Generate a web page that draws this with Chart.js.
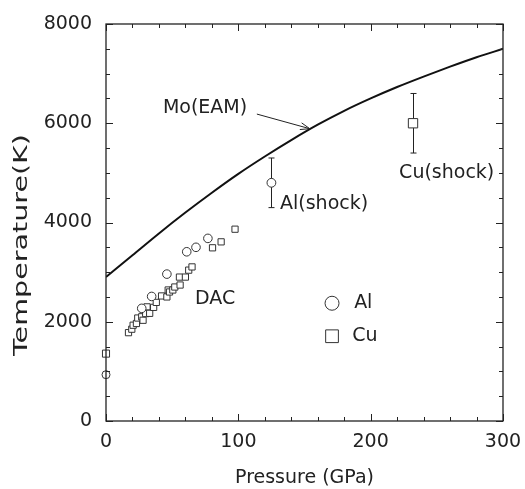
<!DOCTYPE html>
<html><head><meta charset="utf-8">
<script src="https://cdn.jsdelivr.net/npm/chart.js@4"></script>
<style>html,body{margin:0;padding:0;background:#fff}#wrap{width:525px;height:489px}</style>
</head><body><div id="wrap"><canvas id="c" width="525" height="489"></canvas></div>
<script>
// ---- data ----
const curveP = [0,20,40,60,80,100,120,140,160,180,200,220,240,260,280,300];
const curveT = [2900,3340,3780,4200,4600,4980,5330,5660,5970,6250,6500,6730,6940,7140,7330,7500];

const alDacP = [27,34.5,46,61,68,77];
const alDacT = [2270,2510,2960,3410,3500,3680];

const cuDacP = [17,19.5,20.5,23,24,27,28,30,31,33,36,38,42,46,47,48,50.5,52,56,55.5,60,62.5,65,80.5,87,97.5];
const cuDacT = [1780,1850,1930,1965,2075,2100,2030,2165,2300,2170,2290,2390,2520,2500,2640,2600,2640,2700,2740,2900,2900,3040,3105,3490,3610,3865];

const alAmbP = [0], alAmbT = [933];
const cuAmbP = [0], cuAmbT = [1358];

const alShockP = [125], alShockT = [4800], alShockErr = [500];
const cuShockP = [232], cuShockT = [6000], cuShockErr = [600];

const xTicks = [0,100,200,300];
const yTicks = [0,2000,4000,6000,8000];
const xMinorStep = 20, yMinorStep = 500;

const pts = (P,T) => P.map((p,i)=>({x:p,y:T[i]}));
const FONT = '"DejaVu Sans", sans-serif';
const INK = '#222';

const frameTicks = {
  id:'frameTicks',
  beforeDatasetsDraw(chart){
    const {ctx, scales:{x,y}} = chart;
    ctx.save();
    ctx.strokeStyle = INK; ctx.lineWidth = 1;
    const bars = [[alShockP,alShockT,alShockErr],[cuShockP,cuShockT,cuShockErr]];
    bars.forEach(([P,T,E])=>{
      P.forEach((p,i)=>{
        const px = Math.round(x.getPixelForValue(p))+0.5;
        const y1 = y.getPixelForValue(T[i]+E[i]), y2 = y.getPixelForValue(T[i]-E[i]);
        ctx.beginPath();
        ctx.moveTo(px,y1); ctx.lineTo(px,y2);
        ctx.moveTo(px-3,y1); ctx.lineTo(px+3,y1);
        ctx.moveTo(px-3,y2); ctx.lineTo(px+3,y2);
        ctx.stroke();
      });
    });
    ctx.restore();
  },
  afterDatasetsDraw(chart){
    const {ctx, chartArea:a, scales:{x,y}} = chart;
    ctx.save();
    ctx.strokeStyle = INK;
    ctx.lineWidth = 1.3;
    ctx.strokeRect(a.left, a.top, a.right-a.left, a.bottom-a.top);
    ctx.lineWidth = 1;
    ctx.beginPath();
    for (let v = x.min; v <= x.max + 1e-9; v += xMinorStep) {
      const major = xTicks.includes(v);
      const L = major ? 7 : 4;
      const px = Math.round(x.getPixelForValue(v)) + 0.5;
      ctx.moveTo(px, a.bottom); ctx.lineTo(px, a.bottom - L);
      ctx.moveTo(px, a.top); ctx.lineTo(px, a.top + L);
    }
    for (let v = y.min; v <= y.max + 1e-9; v += yMinorStep) {
      const major = yTicks.includes(v);
      const L = major ? 7 : 4;
      const py = Math.round(y.getPixelForValue(v)) + 0.5;
      ctx.moveTo(a.left, py); ctx.lineTo(a.left + L, py);
      ctx.moveTo(a.right, py); ctx.lineTo(a.right - L, py);
    }
    ctx.stroke();

    // annotations
    ctx.fillStyle = INK;
    ctx.font = '19px ' + FONT;
    ctx.textBaseline = 'middle';
    ctx.textAlign = 'left';
    const txt = (s,p,t)=>ctx.fillText(s, x.getPixelForValue(p), y.getPixelForValue(t));
    txt('Mo(EAM)', 43, 6306);
    txt('Al(shock)', 131.5, 4370);
    txt('Cu(shock)', 221.5, 4995);
    txt('DAC', 67.3, 2455);
    txt('Al', 187.5, 2373);
    txt('Cu', 186, 1708);

    // y-axis title (wide lettering, as in the reference)
    const title = 'Temperature(K)';
    const targetLen = 222;
    ctx.font = '20px ' + FONT;
    const natural = ctx.measureText(title).width;
    ctx.save();
    ctx.translate(22, 245);
    ctx.rotate(-Math.PI/2);
    ctx.scale(targetLen / natural, 1);
    ctx.textAlign = 'center';
    ctx.fillText(title, 0, 0);
    ctx.restore();

    // arrow
    const x0 = x.getPixelForValue(114), y0 = y.getPixelForValue(6185);
    const x1 = x.getPixelForValue(154), y1 = y.getPixelForValue(5890);
    ctx.lineWidth = 1;
    ctx.beginPath(); ctx.moveTo(x0,y0); ctx.lineTo(x1,y1); ctx.stroke();
    const ang = Math.atan2(y1-y0, x1-x0), h = 10;
    ctx.beginPath();
    ctx.moveTo(x1 - h*Math.cos(ang-0.35), y1 - h*Math.sin(ang-0.35));
    ctx.lineTo(x1,y1);
    ctx.lineTo(x1 - h*Math.cos(ang+0.35), y1 - h*Math.sin(ang+0.35));
    ctx.stroke();

    // legend markers
    ctx.strokeStyle = '#333'; ctx.fillStyle = '#fff'; ctx.lineWidth = 1;
    Chart.helpers.drawPoint(ctx, {pointStyle:'circle', radius:7, borderWidth:1}, x.getPixelForValue(170.8), y.getPixelForValue(2373));
    Chart.helpers.drawPoint(ctx, {pointStyle:'rect', radius:9, borderWidth:1}, x.getPixelForValue(170.8), y.getPixelForValue(1708));
    ctx.restore();
  }
};

const mk = (label, P, T, style, r) => ({
  label, data: pts(P,T), pointStyle: style, pointRadius: r, pointHoverRadius: r,
  backgroundColor: '#fff', borderColor: '#333', borderWidth: 1, showLine: false, clip: false
});

new Chart(document.getElementById('c'), {
  type: 'scatter',
  data: { datasets: [
    { label:'Mo(EAM)', data: pts(curveP,curveT), showLine:true, borderColor:'#111', borderWidth:2,
      pointRadius:0, tension:0.4, cubicInterpolationMode:'monotone', fill:false },
    mk('Al', alDacP, alDacT, 'circle', 4.3),
    mk('Cu', cuDacP, cuDacT, 'rect', 4.4),
    mk('Al0', alAmbP, alAmbT, 'circle', 4),
    mk('Cu0', cuAmbP, cuAmbT, 'rect', 5),
    mk('Al shock', alShockP, alShockT, 'circle', 4.4),
    mk('Cu shock', cuShockP, cuShockT, 'rect', 6.6)
  ]},
  options: {
    responsive:false, animation:false, devicePixelRatio:1,
    layout:{ padding:{ top:24, right:22, left:0, bottom:0 } },
    plugins:{ legend:{display:false}, tooltip:{enabled:false} },
    scales:{
      x:{ type:'linear', min:0, max:300,
        afterBuildTicks(s){ s.ticks = xTicks.map(v=>({value:v})); },
        afterFit(s){ s.height = 68; s.paddingLeft = 0; s.paddingRight = 0; },
        grid:{ display:false, drawTicks:false }, border:{display:false},
        ticks:{ font:{size:19, family:FONT}, color:INK, padding:10, maxRotation:0,
                callback:(v)=>String(v) },
        title:{ display:true, text:'Pressure (GPa)', font:{size:19, family:FONT}, color:INK, padding:{top:0,bottom:0} }
      },
      y:{ type:'linear', min:0, max:8000,
        afterBuildTicks(s){ s.ticks = yTicks.map(v=>({value:v})); },
        afterFit(s){ s.width = 106; s.paddingTop = 0; s.paddingBottom = 0; },
        grid:{ display:false, drawTicks:false }, border:{display:false},
        ticks:{ font:{size:19, family:FONT}, color:INK, padding:14, callback:(v)=>String(v) },
        title:{ display:false, text:'Temperature(K)' }
      }
    }
  },
  plugins:[frameTicks]
});
</script></body></html>
